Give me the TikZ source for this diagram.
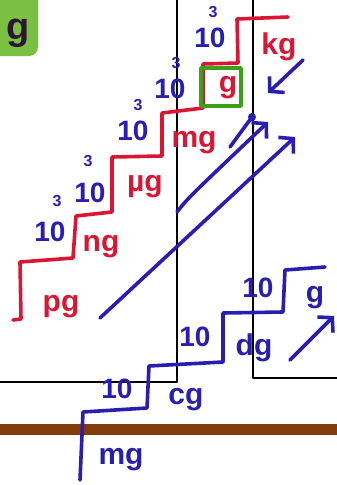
\documentclass[tikz,border=0pt]{standalone}
\usepackage{fontspec}
\setmainfont{Liberation Sans}
\usetikzlibrary{calc, positioning}
\usetikzlibrary{arrows.meta}

\definecolor{inkred}{RGB}{218,22,52}
\definecolor{inkblue}{RGB}{42,30,178}
\definecolor{boxgreen}{RGB}{62,160,22}
\definecolor{tabgreen}{RGB}{122,192,66}
\definecolor{floorbrown}{RGB}{132,60,12}
\definecolor{tabink}{RGB}{44,22,52}

\begin{document}
\begin{tikzpicture}[x=1pt, y=-1pt, line cap=round, line join=round,
  ink/.style={line width=3.6pt},
  redink/.style={ink, draw=inkred},
  blueink/.style={ink, draw=inkblue},
  hand/.style={-{Straight Barb[length=10pt, width=22pt]}},
  unit/.style={font=\fontsize{30}{30}\bfseries\selectfont, inner sep=0pt},
  ten/.style={font=\fontsize{28}{28}\bfseries\selectfont, text=inkblue, inner sep=0pt},
  cube/.style={font=\fontsize{16}{16}\bfseries\selectfont, text=inkblue, inner sep=0pt}]
\useasboundingbox (0,0) rectangle (337,485);

% frame and floor
\draw[line width=1.5pt] (177,0) -- (177,382) -- (0,382);
\draw[line width=1.5pt] (253,0) -- (253,378) -- (337,378);
\fill[floorbrown] (0,424) rectangle (337,435);

% tab
\fill[tabgreen, rounded corners=9pt] (-10,-10) rectangle (38,56);
\node[font=\fontsize{38}{38}\bfseries\selectfont, text=tabink, inner sep=0pt] (tab) at (18,33) {g};

% red steps
\draw[redink] (13,320) -- (21,319) -- (20,262) -- (73,258) -- (76,216) -- (112,212)
  -- (112,157) -- (162,156) -- (162,113) -- (203,108) -- (203,64) -- (238,63)
  -- (237,19) -- (288,17);
\node[draw=boxgreen, line width=3.4pt, minimum width=40pt, minimum height=38pt] (gbox) at (221,87) {};

\node[unit, text=inkred] (pg) at (61,307) {pg};
\node[unit, text=inkred] (ng) at (101,247) {ng};
\node[unit, text=inkred] (ug) at (145,187) {µg};
\node[unit, text=inkred] (mgred) at (194,143) {mg};
\node[unit, text=inkred] (gred) at (228,88) {g};
\node[unit, text=inkred] (kg) at (279,47) {kg};

\node[ten] (t1) at (50,232) {10};
\node[cube] (c1) at (57,201) {3};
\node[ten] (t2) at (90,193) {10};
\node[cube] (c2) at (88,161) {3};
\node[ten] (t3) at (133,131) {10};
\node[cube] (c3) at (138,105) {3};
\node[ten] (t4) at (170,89) {10};
\node[cube] (c4) at (176,63) {3};
\node[ten] (t5) at (210,38) {10};
\node[cube] (c5) at (213,12) {3};

% blue steps
\draw[blueink] (80,480) -- (83,412) -- (147,408) -- (149,366) -- (223,362)
  -- (223,313) -- (283,312) -- (285,270) -- (325,267);

\node[unit, text=inkblue] (mgblue) at (121,460) {mg};
\node[ten] (b1) at (117,389) {10};
\node[unit, text=inkblue] (cg) at (186,400) {cg};
\node[ten] (b2) at (195,337) {10};
\node[unit, text=inkblue] (dg) at (254,348) {dg};
\node[ten] (b3) at (258,288) {10};
\node[unit, text=inkblue] (gblue) at (315,298) {g};

% arrows
\coordinate (downA) at (303,60);
\coordinate (downB) at (268,93);
\coordinate (dotA) at (230,147);
\coordinate (dotB) at (252,117);
\coordinate (upA) at (177,212);
\coordinate (upB) at (268,122);
\coordinate (longA) at (100,318);
\coordinate (longB) at (295,137);
\coordinate (lowA) at (290,360);
\coordinate (lowB) at (334,316);

\draw[blueink, hand] (downA) -- (downB);
\draw[blueink] (dotA) -- (dotB);
\fill[inkblue] (dotB) circle (4pt);
\draw[blueink, hand] (upA) .. controls (188,198) .. (upB);
\draw[blueink, hand] (longA) -- (longB);
\draw[blueink, hand] (lowA) -- (lowB);
\end{tikzpicture}
\end{document}
